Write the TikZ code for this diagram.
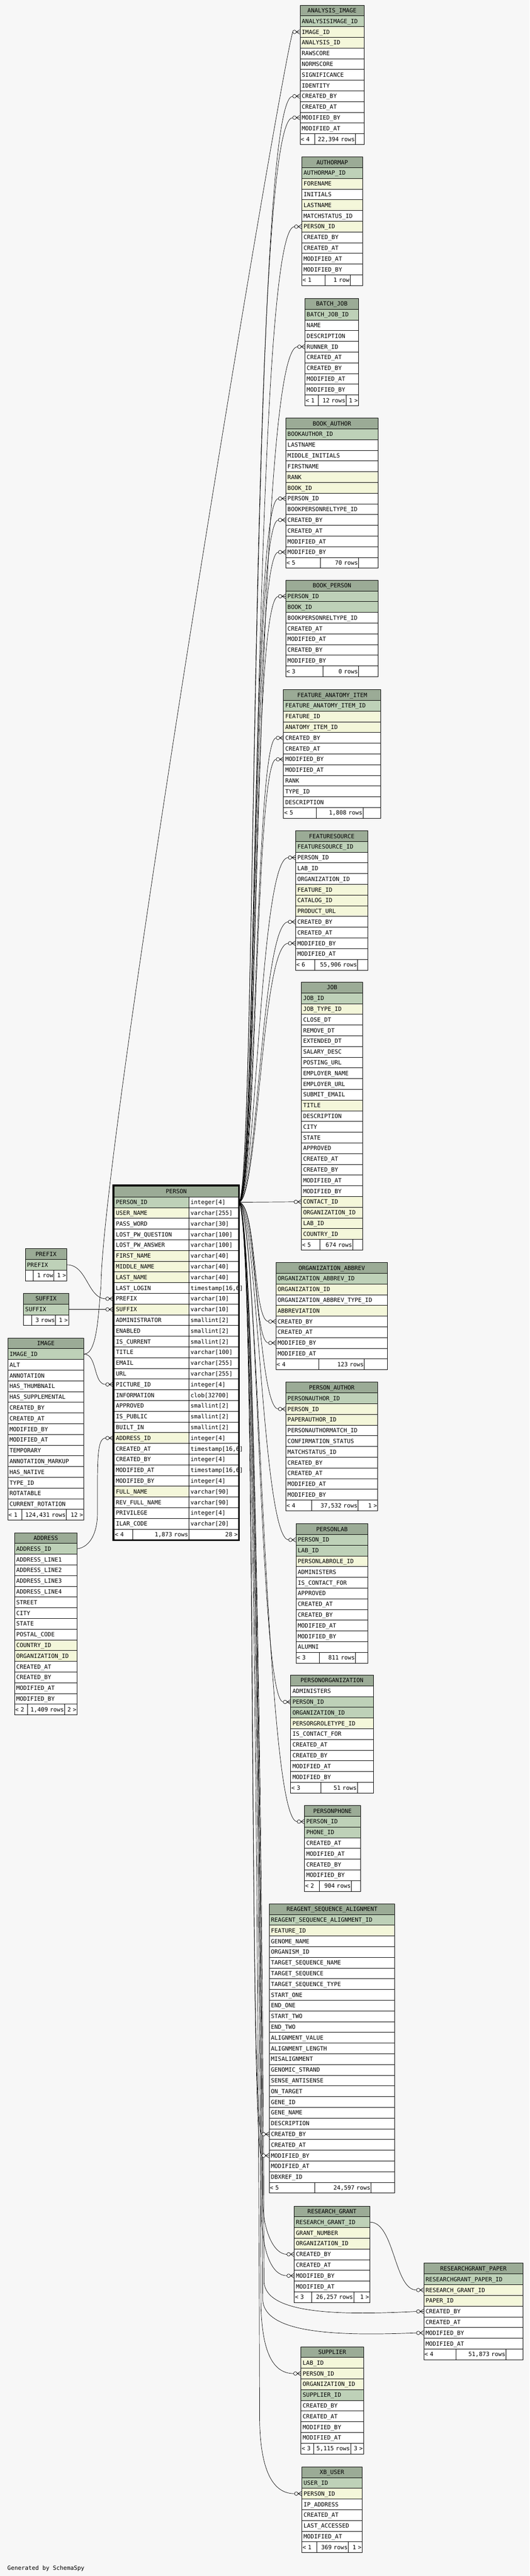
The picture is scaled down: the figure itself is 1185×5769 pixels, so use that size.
\documentclass[tikz,border=0pt]{standalone}
\usepackage{fontspec}
\newfontfamily\erfont{DejaVu Sans Mono}
\definecolor{bgc}{HTML}{F7F7F7}
\definecolor{hd}{HTML}{9BAB96}
\definecolor{pk}{HTML}{BED1B8}
\definecolor{fk}{HTML}{F4F7DA}
\definecolor{nn}{HTML}{FFFFFF}
\pgfdeclarelayer{back}
\pgfdeclarelayer{edges}
\pgfsetlayers{back,edges,main}
\tikzset{
  erfnt/.style={font=\erfont\fontsize{13}{15}\selectfont},
  cellbox/.style={erfnt, draw=black, line width=1pt, anchor=north west, minimum height=24pt,
    inner xsep=4pt, inner ysep=0pt, text height=11pt, text depth=1.5pt, align=left},
  hdrbox/.style={cellbox, fill=hd, align=center},
  footbox/.style={cellbox, fill=white, inner xsep=1.5pt},
  conn/.style={draw=black, line width=0.8pt},
}
\newcommand\ertable[6]{%
  \pgfmathsetmacro\erL{#2}%
  \pgfmathsetmacro\erR{#3}%
  \pgfmathsetmacro\erTW{#3-#2-8}%
  \node[hdrbox, text width=\erTW pt] (#1-0) at (#2,#4) {#5};%
  \foreach \ty/\tx [count=\i] in {#6} {%
    \node[cellbox, fill=\ty, text width=\erTW pt] (#1-\i) at (#2,{#4+24*\i}) {\tx};%
    \xdef\erN{\i}%
  }%
  \pgfmathsetmacro\erT{#4+24*(\erN+1)}%
}
\newcommand\erfoot[6]{%
  \pgfmathsetmacro\erWa{#2-\erL-3}%
  \pgfmathsetmacro\erWb{#3-#2-3}%
  \pgfmathsetmacro\erWc{\erR-#3-3}%
  \node[footbox, text width=\erWa pt, align=left] (#1-fa) at (\erL,\erT) {#4};%
  \node[footbox, text width=\erWb pt, align=right] (#1-fb) at (#2,\erT) {#5};%
  \node[footbox, text width=\erWc pt, align=right] (#1-fc) at (#3,\erT) {#6};%
}
\newcommand\erCrow[1]{%
  \draw[line width=0.8pt] ([xshift=-8pt]#1) -- ([yshift=5pt]#1)
    ([xshift=-8pt]#1) -- ([yshift=-5pt]#1) ([xshift=-16pt]#1) -- (#1);%
  \draw[line width=0.8pt, fill=white] ([xshift=-12pt]#1) circle[radius=4pt];%
}
\begin{document}
\begin{tikzpicture}[x=1pt,y=-1pt]
\useasboundingbox (0,0) rectangle (1185,5769);
\begin{pgfonlayer}{back}
\fill[bgc] (0,0) rectangle (1185,5769);
\end{pgfonlayer}

% ---------------- right column ----------------
\ertable{AI}{671}{814}{11}{ANALYSIS\_IMAGE}{pk/ANALYSISIMAGE\_ID,fk/IMAGE\_ID,fk/ANALYSIS\_ID,nn/RAWSCORE,nn/NORMSCORE,nn/SIGNIFICANCE,nn/IDENTITY,nn/CREATED\_BY,nn/CREATED\_AT,nn/MODIFIED\_BY,nn/MODIFIED\_AT}
\erfoot{AI}{704}{795}{< 4}{22,394 rows}{}

\ertable{AM}{675}{811}{351}{AUTHORMAP}{pk/AUTHORMAP\_ID,fk/FORENAME,nn/INITIALS,fk/LASTNAME,nn/MATCHSTATUS\_ID,fk/PERSON\_ID,nn/CREATED\_BY,nn/CREATED\_AT,nn/MODIFIED\_AT,nn/MODIFIED\_BY}
\erfoot{AM}{727}{783}{< 1}{1 row}{}

\ertable{BJ}{682}{802}{668}{BATCH\_JOB}{pk/BATCH\_JOB\_ID,nn/NAME,nn/DESCRIPTION,nn/RUNNER\_ID,nn/CREATED\_AT,nn/CREATED\_BY,nn/MODIFIED\_AT,nn/MODIFIED\_BY}
\erfoot{BJ}{712}{774}{< 1}{12 rows}{1 >}

\ertable{BA}{639}{846}{936}{BOOK\_AUTHOR}{pk/BOOKAUTHOR\_ID,nn/LASTNAME,nn/MIDDLE\_INITIALS,nn/FIRSTNAME,fk/RANK,fk/BOOK\_ID,nn/PERSON\_ID,nn/BOOKPERSONRELTYPE\_ID,nn/CREATED\_BY,nn/CREATED\_AT,nn/MODIFIED\_AT,nn/MODIFIED\_BY}
\erfoot{BA}{717}{802}{< 5}{70 rows}{}

\ertable{BP}{639}{846}{1299}{BOOK\_PERSON}{pk/PERSON\_ID,pk/BOOK\_ID,nn/BOOKPERSONRELTYPE\_ID,nn/CREATED\_AT,nn/MODIFIED\_AT,nn/CREATED\_BY,nn/MODIFIED\_BY}
\erfoot{BP}{722}{802}{< 3}{0 rows}{}

\ertable{FA}{634}{852}{1544}{FEATURE\_ANATOMY\_ITEM}{pk/FEATURE\_ANATOMY\_ITEM\_ID,fk/FEATURE\_ID,fk/ANATOMY\_ITEM\_ID,nn/CREATED\_BY,nn/CREATED\_AT,nn/MODIFIED\_BY,nn/MODIFIED\_AT,nn/RANK,nn/TYPE\_ID,nn/DESCRIPTION}
\erfoot{FA}{707}{812}{< 5}{1,808 rows}{}

\ertable{FS}{661}{823}{1860}{FEATURESOURCE}{pk/FEATURESOURCE\_ID,nn/PERSON\_ID,nn/LAB\_ID,nn/ORGANIZATION\_ID,fk/FEATURE\_ID,fk/CATALOG\_ID,fk/PRODUCT\_URL,nn/CREATED\_BY,nn/CREATED\_AT,nn/MODIFIED\_BY,nn/MODIFIED\_AT}
\erfoot{FS}{704}{800}{< 6}{55,906 rows}{}

\ertable{JB}{674}{811}{2199}{JOB}{pk/JOB\_ID,fk/JOB\_TYPE\_ID,nn/CLOSE\_DT,nn/REMOVE\_DT,nn/EXTENDED\_DT,nn/SALARY\_DESC,nn/POSTING\_URL,nn/EMPLOYER\_NAME,nn/EMPLOYER\_URL,nn/SUBMIT\_EMAIL,fk/TITLE,nn/DESCRIPTION,nn/CITY,nn/STATE,nn/APPROVED,nn/CREATED\_AT,nn/CREATED\_BY,nn/MODIFIED\_AT,nn/MODIFIED\_BY,fk/CONTACT\_ID,fk/ORGANIZATION\_ID,fk/LAB\_ID,fk/COUNTRY\_ID}
\erfoot{JB}{715}{789}{< 5}{674 rows}{}

\ertable{OA}{617}{867}{2827}{ORGANIZATION\_ABBREV}{pk/ORGANIZATION\_ABBREV\_ID,fk/ORGANIZATION\_ID,nn/ORGANIZATION\_ABBREV\_TYPE\_ID,fk/ABBREVIATION,nn/CREATED\_BY,nn/CREATED\_AT,nn/MODIFIED\_BY,nn/MODIFIED\_AT}
\erfoot{OA}{713}{815}{< 4}{123 rows}{}

\ertable{PA}{639}{845}{3095}{PERSON\_AUTHOR}{pk/PERSONAUTHOR\_ID,fk/PERSON\_ID,fk/PAPERAUTHOR\_ID,nn/PERSONAUTHORMATCH\_ID,nn/CONFIRMATION\_STATUS,nn/MATCHSTATUS\_ID,nn/CREATED\_BY,nn/CREATED\_AT,nn/MODIFIED\_AT,nn/MODIFIED\_BY}
\erfoot{PA}{697}{801}{< 4}{37,532 rows}{1 >}

\ertable{PL}{662}{823}{3412}{PERSONLAB}{pk/PERSON\_ID,pk/LAB\_ID,fk/PERSONLABROLE\_ID,nn/ADMINISTERS,nn/IS\_CONTACT\_FOR,nn/APPROVED,nn/CREATED\_AT,nn/CREATED\_BY,nn/MODIFIED\_AT,nn/MODIFIED\_BY,nn/ALUMNI}
\erfoot{PL}{714}{795}{< 3}{811 rows}{}

\ertable{PO}{650}{835}{3751}{PERSONORGANIZATION}{nn/ADMINISTERS,pk/PERSON\_ID,pk/ORGANIZATION\_ID,fk/PERSORGROLETYPE\_ID,nn/IS\_CONTACT\_FOR,nn/CREATED\_AT,nn/CREATED\_BY,nn/MODIFIED\_AT,nn/MODIFIED\_BY}
\erfoot{PO}{718}{799}{< 3}{51 rows}{}

\ertable{PP}{681}{806}{4043}{PERSONPHONE}{pk/PERSON\_ID,pk/PHONE\_ID,nn/CREATED\_AT,nn/MODIFIED\_AT,nn/CREATED\_BY,nn/MODIFIED\_BY}
\erfoot{PP}{714}{786}{< 2}{904 rows}{}

\ertable{RS}{602}{883}{4263}{REAGENT\_SEQUENCE\_ALIGNMENT}{pk/REAGENT\_SEQUENCE\_ALIGNMENT\_ID,fk/FEATURE\_ID,nn/GENOME\_NAME,nn/ORGANISM\_ID,nn/TARGET\_SEQUENCE\_NAME,nn/TARGET\_SEQUENCE,nn/TARGET\_SEQUENCE\_TYPE,nn/START\_ONE,nn/END\_ONE,nn/START\_TWO,nn/END\_TWO,nn/ALIGNMENT\_VALUE,nn/ALIGNMENT\_LENGTH,nn/MISALIGNMENT,nn/GENOMIC\_STRAND,nn/SENSE\_ANTISENSE,nn/ON\_TARGET,nn/GENE\_ID,nn/GENE\_NAME,nn/DESCRIPTION,nn/CREATED\_BY,nn/CREATED\_AT,nn/MODIFIED\_BY,nn/MODIFIED\_AT,nn/DBXREF\_ID}
\erfoot{RS}{704}{830}{< 5}{24,597 rows}{}

\ertable{RG}{658}{827}{4940}{RESEARCH\_GRANT}{pk/RESEARCH\_GRANT\_ID,fk/GRANT\_NUMBER,fk/ORGANIZATION\_ID,nn/CREATED\_BY,nn/CREATED\_AT,nn/MODIFIED\_BY,nn/MODIFIED\_AT}
\erfoot{RG}{697}{791}{< 3}{26,257 rows}{1 >}

\ertable{RP}{948}{1170}{5068}{RESEARCHGRANT\_PAPER}{pk/RESEARCHGRANT\_PAPER\_ID,fk/RESEARCH\_GRANT\_ID,fk/PAPER\_ID,nn/CREATED\_BY,nn/CREATED\_AT,nn/MODIFIED\_BY,nn/MODIFIED\_AT}
\erfoot{RP}{1020}{1132}{< 4}{51,873 rows}{}

\ertable{SP}{673}{813}{5255}{SUPPLIER}{fk/LAB\_ID,fk/PERSON\_ID,fk/ORGANIZATION\_ID,pk/SUPPLIER\_ID,nn/CREATED\_BY,nn/CREATED\_AT,nn/MODIFIED\_BY,nn/MODIFIED\_AT}
\erfoot{SP}{702}{784}{< 3}{5,115 rows}{3 >}

\ertable{XU}{675}{810}{5524}{XB\_USER}{pk/USER\_ID,fk/PERSON\_ID,nn/IP\_ADDRESS,nn/CREATED\_AT,nn/LAST\_ACCESSED,nn/MODIFIED\_AT}
\erfoot{XU}{708}{779}{< 1}{369 rows}{1 >}

% ---------------- left column ----------------
\ertable{PF}{56}{149}{2796}{PREFIX}{pk/PREFIX}
\erfoot{PF}{74}{120}{}{1 row}{1 >}

\ertable{SF}{52}{153}{2896}{SUFFIX}{pk/SUFFIX}
\erfoot{SF}{70}{124}{}{3 rows}{1 >}

\ertable{IM}{17}{187}{2996}{IMAGE}{pk/IMAGE\_ID,nn/ALT,nn/ANNOTATION,nn/HAS\_THUMBNAIL,nn/HAS\_SUPPLEMENTAL,nn/CREATED\_BY,nn/CREATED\_AT,nn/MODIFIED\_BY,nn/MODIFIED\_AT,nn/TEMPORARY,nn/ANNOTATION\_MARKUP,nn/HAS\_NATIVE,nn/TYPE\_ID,nn/ROTATABLE,nn/CURRENT\_ROTATION}
\erfoot{IM}{49}{148}{< 1}{124,431 rows}{12 >}

\ertable{AD}{32}{172}{3432}{ADDRESS}{pk/ADDRESS\_ID,nn/ADDRESS\_LINE1,nn/ADDRESS\_LINE2,nn/ADDRESS\_LINE3,nn/ADDRESS\_LINE4,nn/STREET,nn/CITY,nn/STATE,nn/POSTAL\_CODE,fk/COUNTRY\_ID,fk/ORGANIZATION\_ID,nn/CREATED\_AT,nn/CREATED\_BY,nn/MODIFIED\_AT,nn/MODIFIED\_BY}
\erfoot{AD}{61}{144}{< 2}{1,409 rows}{2 >}

% ---------------- PERSON ----------------
\node[hdrbox, text width=270pt] (PE-0) at (255,2656) {PERSON};
\foreach \ty/\tx/\tz [count=\i] in {pk/PERSON\_ID/integer[4],fk/USER\_NAME/varchar[255],nn/PASS\_WORD/varchar[30],nn/LOST\_PW\_QUESTION/varchar[100],nn/LOST\_PW\_ANSWER/varchar[100],fk/FIRST\_NAME/varchar[40],fk/MIDDLE\_NAME/varchar[40],fk/LAST\_NAME/varchar[40],nn/LAST\_LOGIN/{timestamp[16,6]},nn/PREFIX/varchar[10],fk/SUFFIX/varchar[10],nn/ADMINISTRATOR/smallint[2],nn/ENABLED/smallint[2],nn/IS\_CURRENT/smallint[2],nn/TITLE/varchar[100],nn/EMAIL/varchar[255],nn/URL/varchar[255],nn/PICTURE\_ID/integer[4],nn/INFORMATION/clob[32700],nn/APPROVED/smallint[2],nn/IS\_PUBLIC/smallint[2],nn/BUILT\_IN/smallint[2],fk/ADDRESS\_ID/integer[4],nn/CREATED\_AT/{timestamp[16,6]},nn/CREATED\_BY/integer[4],nn/MODIFIED\_AT/{timestamp[16,6]},nn/MODIFIED\_BY/integer[4],fk/FULL\_NAME/varchar[90],nn/REV\_FULL\_NAME/varchar[90],nn/PRIVILEGE/integer[4],nn/ILAR\_CODE/varchar[20]} {
  \node[cellbox, fill=\ty, text width=159pt] (PE-\i) at (255,{2656+24*\i}) {\tx};
  \node[cellbox, fill=white, text width=103pt] (PE-\i-t) at (422,{2656+24*\i}) {\tz};
}
\def\erL{255}\def\erR{533}\def\erT{3424}
\erfoot{PE}{296}{422}{< 4}{1,873 rows}{28 >}
\draw[line width=3pt] (253.5,2654.5) rectangle (534.5,3449.5);

\coordinate (pe10) at ([xshift=-2.5pt]PE-10.west);
\coordinate (pe11) at ([xshift=-2.5pt]PE-11.west);
\coordinate (pe18) at ([xshift=-2.5pt]PE-18.west);
\coordinate (pe23) at ([xshift=-2.5pt]PE-23.west);

\node[erfnt, anchor=base west, inner sep=0pt] (gen) at (16.5,5756) {Generated by SchemaSpy};

% ---------------- connectors ----------------
\begin{pgfonlayer}{edges}
\draw[conn] (PE-1-t.east) .. controls +(40,0) and +(-95,0) .. ([xshift=-16pt]AI-8.west);
\draw[conn] (PE-1-t.east) .. controls +(42,0) and +(-100,0) .. ([xshift=-16pt]AI-10.west);
\draw[conn] (PE-1-t.east) .. controls +(44,0) and +(-94,0) .. ([xshift=-16pt]AM-6.west);
\draw[conn] (PE-1-t.east) .. controls +(46,0) and +(-96,0) .. ([xshift=-16pt]BJ-4.west);
\draw[conn] (PE-1-t.east) .. controls +(40,0) and +(-63,0) .. ([xshift=-16pt]BA-7.west);
\draw[conn] (PE-1-t.east) .. controls +(42,0) and +(-63,0) .. ([xshift=-16pt]BA-9.west);
\draw[conn] (PE-1-t.east) .. controls +(44,0) and +(-63,0) .. ([xshift=-16pt]BA-12.west);
\draw[conn] (PE-1-t.east) .. controls +(46,0) and +(-63,0) .. ([xshift=-16pt]BP-1.west);
\draw[conn] (PE-1-t.east) .. controls +(40,0) and +(-48,0) .. ([xshift=-16pt]FA-4.west);
\draw[conn] (PE-1-t.east) .. controls +(42,0) and +(-48,0) .. ([xshift=-16pt]FA-6.west);
\draw[conn] (PE-1-t.east) .. controls +(40,0) and +(-65,0) .. ([xshift=-16pt]FS-2.west);
\draw[conn] (PE-1-t.east) .. controls +(42,0) and +(-60,0) .. ([xshift=-16pt]FS-8.west);
\draw[conn] (PE-1-t.east) .. controls +(44,0) and +(-60,0) .. ([xshift=-16pt]FS-10.west);
\draw[conn] (PE-1-t.east) -- ([xshift=-16pt]JB-20.west);
\draw[conn] (PE-1-t.east) .. controls +(40,0) and +(-35,0) .. ([xshift=-16pt]OA-5.west);
\draw[conn] (PE-1-t.east) .. controls +(42,0) and +(-35,0) .. ([xshift=-16pt]OA-7.west);
\draw[conn] (PE-1-t.east) .. controls +(40,0) and +(-45,0) .. ([xshift=-16pt]PA-2.west);
\draw[conn] (PE-1-t.east) .. controls +(42,0) and +(-60,0) .. ([xshift=-16pt]PL-1.west);
\draw[conn] (PE-1-t.east) .. controls +(44,0) and +(-55,0) .. ([xshift=-16pt]PO-2.west);
\draw[conn] (PE-1-t.east) .. controls +(46,0) and +(-75,0) .. ([xshift=-16pt]PP-1.west);
\draw[conn] (PE-1-t.east) .. controls +(40,0) and +(-30,0) .. ([xshift=-16pt]RS-21.west);
\draw[conn] (PE-1-t.east) .. controls +(42,0) and +(-30,0) .. ([xshift=-16pt]RS-23.west);
\draw[conn] (PE-1-t.east) .. controls +(38,0) and +(-2,-600) .. (588,4935) .. controls +(2,60) and +(-30,0) .. ([xshift=-16pt]RG-4.west);
\draw[conn] (PE-1-t.east) .. controls +(36,0) and +(-2,-600) .. (585,4960) .. controls +(2,80) and +(-35,0) .. ([xshift=-16pt]RG-6.west);
\draw[conn] (PE-1-t.east) .. controls +(37,0) and +(-2,-800) .. (591,5110) .. controls +(3,75) and +(-160,8) .. ([xshift=-16pt]RP-4.west);
\draw[conn] (PE-1-t.east) .. controls +(35,0) and +(-2,-800) .. (588,5150) .. controls +(3,80) and +(-160,6) .. ([xshift=-16pt]RP-6.west);
\draw[conn] (PE-1-t.east) .. controls +(34,0) and +(-2,-700) .. (584,5160) .. controls +(2,110) and +(-45,0) .. ([xshift=-16pt]SP-2.west);
\draw[conn] (PE-1-t.east) .. controls +(33,0) and +(-2,-900) .. (581,5420) .. controls +(2,120) and +(-45,0) .. ([xshift=-16pt]XU-2.west);
% left side
\draw[conn] (IM-1.east) .. controls +(30,0) and +(-6,60) .. (226,2880) .. controls +(2,-320) and +(-35,130) .. ([xshift=-16pt]AI-2.west);
\draw[conn] (IM-1.east) .. controls +(30,0) and +(-28,0) .. ([xshift=-16pt]pe18);
\draw[conn] (PF-1.east) .. controls +(45,0) and +(-40,0) .. ([xshift=-16pt]pe10);
\draw[conn] (SF-1.east) -- ([xshift=-16pt]pe11);
\draw[conn] (AD-1.east) .. controls +(30,-4) and +(0,40) .. (218,3390) .. controls +(0,-120) and +(-20,0) .. ([xshift=-16pt]pe23);
\draw[conn] (RG-1.east) .. controls +(55,0) and +(-50,0) .. ([xshift=-16pt]RP-2.west);
\end{pgfonlayer}

% ---------------- crow's feet ----------------
\foreach \m in {AI-8.west,AI-10.west,AM-6.west,BJ-4.west,BA-7.west,BA-9.west,BA-12.west,BP-1.west,FA-4.west,FA-6.west,FS-2.west,FS-8.west,FS-10.west,JB-20.west,OA-5.west,OA-7.west,PA-2.west,PL-1.west,PO-2.west,PP-1.west,RS-21.west,RS-23.west,RG-4.west,RG-6.west,RP-4.west,RP-6.west,SP-2.west,XU-2.west,AI-2.west,RP-2.west,pe10,pe11,pe18,pe23} {
  \erCrow{\m}
}
\end{tikzpicture}
\end{document}
